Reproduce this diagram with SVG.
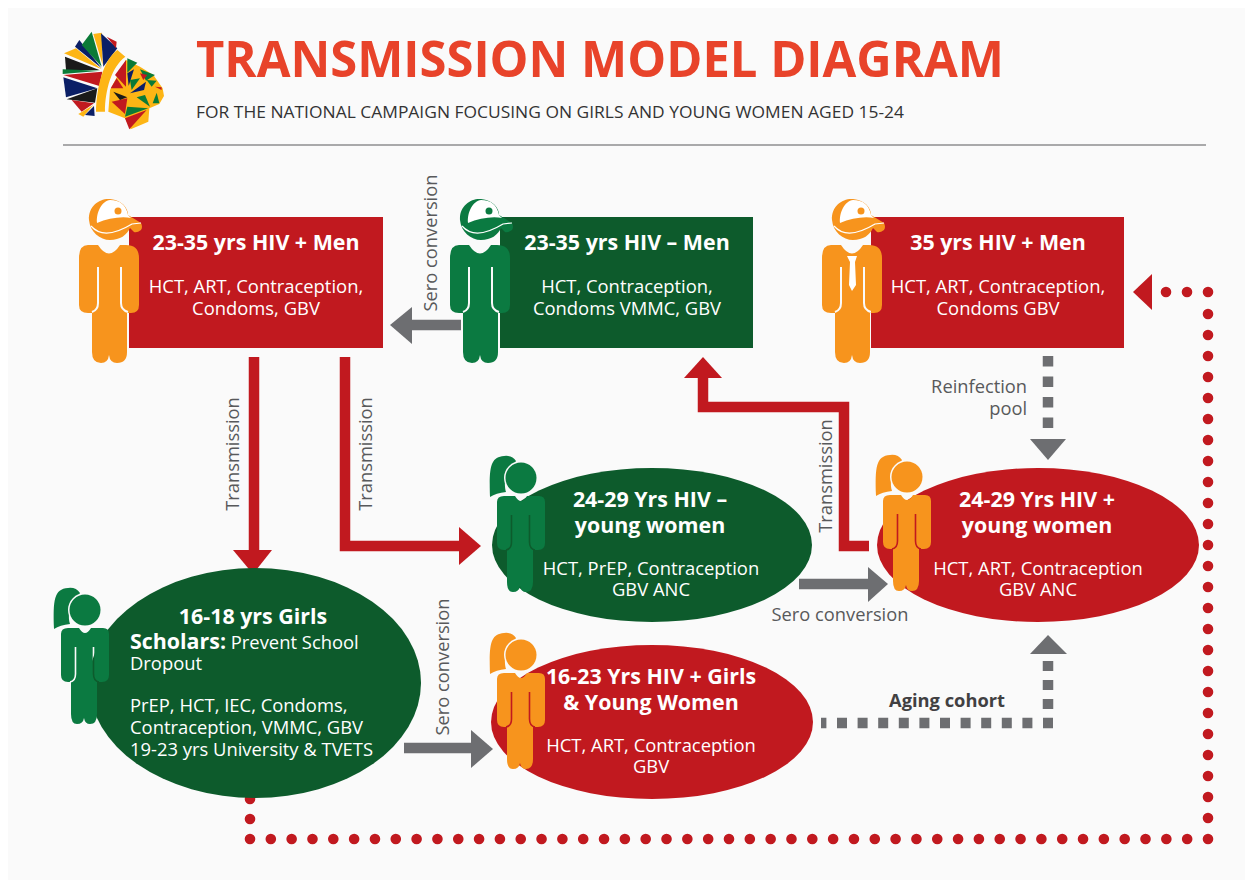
<svg xmlns="http://www.w3.org/2000/svg" width="1253" height="882" viewBox="0 0 1253 882">
<style>
text{font-family:"Open Sans","Liberation Sans",sans-serif}
.h{font-size:21.4px;font-weight:700;fill:#fff;text-anchor:middle}
.b{font-size:18.4px;fill:#fff;text-anchor:middle}
.t{font-size:18.4px;fill:#fff}
.l{font-size:18.3px;fill:#58595b;text-anchor:middle}
.red{fill:#c1191f}.grn{fill:#0d5b2c}
.sr{fill:none;stroke:#c1191f;stroke-width:10.5}
.sg{fill:none;stroke:#6d6e71;stroke-width:10.5}
.dg{fill:none;stroke:#6d6e71;stroke-width:10.5}
.dr{fill:none;stroke:#c1191f;stroke-width:10.6;stroke-linecap:round}
.hr{fill:#c1191f}.hg{fill:#6d6e71}
</style>
<defs>
<mask id="mg" maskUnits="userSpaceOnUse" x="70" y="190" width="80" height="180">
<rect x="70" y="190" width="80" height="180" fill="#fff"/>
<path d="M98 267V303Q98 310 92 312M121 267V303Q121 310 128 312" fill="none" stroke="#000" stroke-width="2"/>
</mask>
<mask id="wg" maskUnits="userSpaceOnUse" x="50" y="580" width="70" height="150">
<rect x="50" y="580" width="70" height="150" fill="#fff"/>
<path d="M75.5 647V674Q75.5 681 70 682M93.5 647V674Q93.5 681 99 682" fill="none" stroke="#000" stroke-width="1.6"/>
<circle cx="85" cy="610" r="17" fill="#000"/>
</mask>
<g id="man">
<path mask="url(#mg)" d="M88 245H98Q109 262 120 245H126Q139 245 139 258V305Q139 313 131 313H127V352Q127 363 117 363Q110 363 109 355Q108 363 101 363Q92 363 92 352V313H88Q79 313 79 305V258Q79 245 88 245Z"/>
<path d="M89 220C88 206 100 198 110 199C122 200 128 208 128 215L141 223Q143 227 141 230Q137 233 134 232L130 228C127 235 120 240 110 240C100 240 90 232 89 220Z"/>
<path d="M97 223C96 212 102 201 110 200C120 200 126 205 128 215L131 218C122 216 108 218 97 223Z" fill="#fff"/>
<path d="M91 226Q104 241 132 224L141 223" fill="none" stroke="#fff" stroke-width="1.2"/>
<circle cx="118" cy="211" r="3.5"/>
</g>
<g id="woman">
<g mask="url(#wg)">
<path d="M54 629C53 600 54 589 68 588Q76 587 80 593L76 600C68 606 68 618 70 624Q60 625 54 629Z"/>
<path d="M68 628H79Q85 638 91 628H103Q109 628 109 634V675Q109 682 102 682H97V714Q97 724 90 724Q85 724 84 718Q83 724 77 724Q71 724 71 714V682H68Q61 682 61 675V634Q61 628 68 628Z"/>
</g>
<circle cx="85" cy="610" r="15.5"/>
</g>
</defs>
<rect width="1253" height="882" fill="#fff"/>
<rect x="8" y="8" width="1237" height="872" fill="#fafafa"/>

<g id="logo" transform="translate(40 10) scale(.3333)">
<polygon points="258,150 300,170 340,195 368,235 372,258 358,282 328,295 325,335 272,358 255,325 205,305 210,240" fill="#fdb515"/>
<polygon points="72,130 108,115 185,178" fill="#fdb515"/>
<polygon points="105,110 118,90 185,175" fill="#0b1f66"/>
<polygon points="125,105 155,65 185,170" fill="#0a7a37"/>
<polygon points="160,72 185,68 188,165" fill="#fdb515"/>
<polygon points="183,70 232,115 190,170" fill="#0b1f66"/>
<polygon points="200,80 230,95 228,115" fill="#c1191f"/>
<polygon points="75,140 178,180 78,180" fill="#1a1a1a"/>
<polygon points="68,178 182,182 68,192" fill="#0a7a37"/>
<polygon points="70,195 187,185 178,228" fill="#c1191f"/>
<polygon points="70,202 172,235 78,262" fill="#0b1f66"/>
<polygon points="80,268 172,235 165,278" fill="#1a1a1a"/>
<polygon points="95,270 162,280 125,305" fill="#c1191f"/>
<polygon points="115,312 160,285 130,320" fill="#fdb515"/>
<polygon points="135,315 162,288 164,318" fill="#0b1f66"/>
<path d="M168 305C170 230 190 150 232 120L256 140C215 170 195 240 195 305Z" fill="#fdb515"/>
<polygon points="225,195 258,150 258,230" fill="#c1191f"/>
<polygon points="212,235 230,205 250,235" fill="#c1191f"/>
<polygon points="262,145 292,158 262,188" fill="#0a7a37"/>
<polygon points="262,190 282,178 266,228" fill="#0b1f66"/>
<polygon points="270,250 318,215 312,240" fill="#0b1f66"/>
<polygon points="270,210 300,205 275,240" fill="#0a7a37"/>
<polygon points="300,178 345,195 318,212" fill="#0a7a37"/>
<polygon points="320,210 350,212 335,230" fill="#0a7a37"/>
<polygon points="300,190 322,195 310,210" fill="#c1191f"/>
<polygon points="345,230 365,232 365,240" fill="#c1191f"/>
<polygon points="290,262 330,290 315,255" fill="#0a7a37"/>
<polygon points="338,280 350,248 358,280" fill="#0a7a37"/>
<polygon points="215,275 262,265 255,312" fill="#c1191f"/>
<polygon points="255,320 262,290 325,295" fill="#0a7a37"/>
<polygon points="255,325 320,300 268,358" fill="#c1191f"/>
<polygon points="220,245 262,262 240,270" fill="#1a1a1a"/>
</g>

<text x="196" y="77" font-size="51" font-weight="700" fill="#e8432a" textLength="808" lengthAdjust="spacingAndGlyphs">TRANSMISSION MODEL DIAGRAM</text>
<text x="196" y="118" font-size="15.5" font-weight="500" fill="#333" textLength="708" lengthAdjust="spacingAndGlyphs">FOR THE NATIONAL CAMPAIGN FOCUSING ON GIRLS AND YOUNG WOMEN AGED 15-24</text>
<line x1="63" y1="145" x2="1206" y2="145" stroke="#58595b" stroke-width="1.2"/>

<g id="connectors">
<path class="sg" d="M461 325H410"/><polygon class="hg" points="390,325 412,307 412,344"/>
<path class="sr" d="M254 357V552"/><polygon class="hr" points="253,574 233,550 272,550"/>
<path class="sr" d="M345 357V546H462"/><polygon class="hr" points="481,546 459,527 459,565"/>
<path class="sr" d="M869 546H844V407H703V376"/><polygon class="hr" points="703,357 684,378 722,378"/>
<path class="sg" d="M799 584H870"/><polygon class="hg" points="888,584 868,567 868,602"/>
<path class="dg" stroke-dasharray="10.5 10" d="M1048 356V428"/><polygon class="hg" points="1048,460 1030,439 1066,439"/>
<path class="sg" d="M404 748H472"/><polygon class="hg" points="493,749 471,730 471,768"/>
<path class="dg" stroke-dasharray="10 10.6" d="M1053 723H821"/>
<path class="dg" stroke-dasharray="10 9" d="M1048 709V661"/><polygon class="hg" points="1048,635 1030,654 1067,654"/>
<path class="dr" stroke-dasharray="0 20" d="M250 799V830"/>
<path class="dr" stroke-dasharray="0 20.826" d="M250 839H1200"/>
<path class="dr" stroke-dasharray="0 21" d="M1208 839V300"/>
<path class="dr" stroke-dasharray="0 21" d="M1208 292H1160"/>
<polygon class="hr" points="1133,292 1152,274 1152,310"/>
</g>
<text class="l" transform="translate(239 454) rotate(-90)">Transmission</text>
<text class="l" transform="translate(372 454) rotate(-90)">Transmission</text>
<text class="l" transform="translate(437 243) rotate(-90)">Sero conversion</text>
<text class="l" transform="translate(449 667) rotate(-90)">Sero conversion</text>
<text class="l" transform="translate(832 476) rotate(-90)">Transmission</text>
<text class="l" x="1027" y="393" style="text-anchor:end">Reinfection</text>
<text class="l" x="1027" y="415" style="text-anchor:end">pool</text>
<text class="l" x="840" y="621">Sero conversion</text>
<text class="l" x="947" y="707" font-weight="700" style="fill:#414042">Aging cohort</text>

<g id="node-men-23-35-pos">
<rect class="red" x="129" y="217" width="254" height="131"/>
<use href="#man" fill="#f7941d"/>
<text class="h" x="256" y="250">23-35 yrs HIV + Men</text>
<text class="b" x="256" y="293">HCT, ART, Contraception,</text>
<text class="b" x="256" y="315">Condoms, GBV</text>
</g>
<g id="node-men-23-35-neg">
<rect class="grn" x="500" y="217" width="253" height="131"/>
<use href="#man" x="371" fill="#0b7a41"/>
<text class="h" x="627" y="250">23-35 yrs HIV – Men</text>
<text class="b" x="627" y="293">HCT, Contraception,</text>
<text class="b" x="627" y="315">Condoms VMMC, GBV</text>
</g>
<g id="node-men-35-pos">
<rect class="red" x="871" y="217" width="253" height="131"/>
<use href="#man" x="743" fill="#f7941d"/>
<path d="M847 256H857L855 262L856 285L852 291L849 285L850 262Z" fill="#fff"/>
<text class="h" x="998" y="250">35 yrs HIV + Men</text>
<text class="b" x="998" y="293">HCT, ART, Contraception,</text>
<text class="b" x="998" y="315">Condoms GBV</text>
</g>
<g id="node-women-24-29-neg">
<ellipse class="grn" cx="652" cy="545" rx="160" ry="77"/>
<use href="#woman" x="436" y="-132" fill="#0b7a41"/>
<text class="h" x="650" y="507">24-29 Yrs HIV –</text>
<text class="h" x="650" y="533">young women</text>
<text class="b" x="651" y="575">HCT, PrEP, Contraception</text>
<text class="b" x="651" y="596">GBV ANC</text>
</g>
<g id="node-women-24-29-pos">
<ellipse class="red" cx="1038" cy="545" rx="161" ry="77"/>
<use href="#woman" x="822" y="-133" fill="#f7941d"/>
<text class="h" x="1037" y="507">24-29 Yrs HIV +</text>
<text class="h" x="1037" y="533">young women</text>
<text class="b" x="1038" y="575">HCT, ART, Contraception</text>
<text class="b" x="1038" y="596">GBV ANC</text>
</g>
<g id="node-girls-16-18">
<ellipse class="grn" cx="255" cy="683" rx="166" ry="115"/>
<use href="#woman" fill="#0b7a41"/>
<text class="h" x="253" y="624">16-18 yrs Girls</text>
<text class="t" x="130" y="649"><tspan font-size="21.4" font-weight="700">Scholars:</tspan> Prevent School</text>
<text class="t" x="130" y="670">Dropout</text>
<text class="t" x="130" y="712">PrEP, HCT, IEC, Condoms,</text>
<text class="t" x="130" y="734">Contraception, VMMC, GBV</text>
<text class="t" x="130" y="756">19-23 yrs University &amp; TVETS</text>
</g>
<g id="node-girls-16-23">
<ellipse class="red" cx="652" cy="722" rx="161" ry="77"/>
<use href="#woman" x="436" y="45" fill="#f7941d"/>
<text class="h" x="651" y="684">16-23 Yrs HIV + Girls</text>
<text class="h" x="651" y="710">&amp; Young Women</text>
<text class="b" x="651" y="752">HCT, ART, Contraception</text>
<text class="b" x="651" y="773">GBV</text>
</g>
</svg>
